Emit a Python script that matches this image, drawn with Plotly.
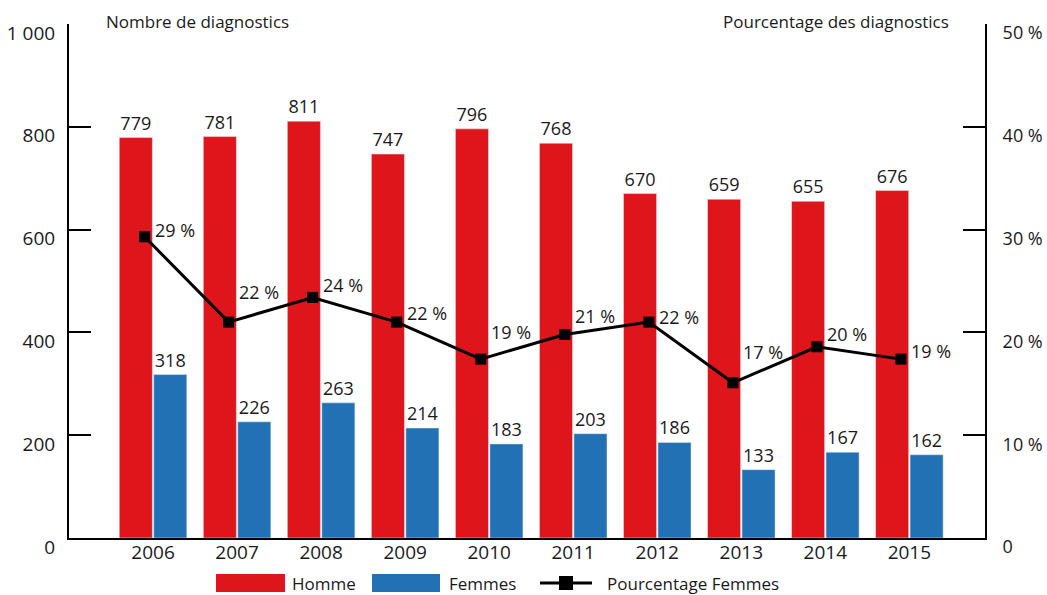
import plotly.graph_objects as go

years = ["2006", "2007", "2008", "2009", "2010", "2011", "2012", "2013", "2014", "2015"]
homme = [779, 781, 811, 747, 796, 768, 670, 659, 655, 676]
femmes = [318, 226, 263, 214, 183, 203, 186, 133, 167, 162]
pct_femmes = [29.3, 21.0, 23.4, 21.0, 17.4, 19.8, 21.0, 15.1, 18.6, 17.4]
pct_labels = ["29 %", "22 %", "24 %", "22 %", "19 %", "21 %", "22 %", "17 %", "20 %", "19 %"]
series_names = ["Homme", "Femmes", "Pourcentage Femmes"]
left_title = "Nombre de diagnostics"
right_title = "Pourcentage des diagnostics"
left_ticks = [0, 200, 400, 600, 800, 1000]
left_ticktext = ["0", "200", "400", "600", "800", "1 000"]
right_ticks = [0, 10, 20, 30, 40, 50]
right_ticktext = ["0", "10 %", "20 %", "30 %", "40 %", "50 %"]

# label vertical offsets (style only)
label_yshift = [7, 30, 12, 9, 27, 18, 5, 31, 13, 8]

FONT = "Open Sans"
TXT = "#1a1a1a"
RED = "#de151b"
BLUE = "#2271b5"

W, H = 1047, 595
ML, MR, MT, MB = 69, 62, 24, 57
pw, ph = W - ML - MR, H - MT - MB


def px2x(px):
    return (px - ML) / pw


def px2y(py):
    return (H - MB - py) / ph


fig = go.Figure()
fig.add_trace(go.Bar(
    x=years, y=homme, name=series_names[0], marker_color=RED,
    text=homme, textposition="outside", cliponaxis=False, showlegend=False,
    textfont=dict(size=18, color=TXT, family=FONT),
))
fig.add_trace(go.Bar(
    x=years, y=femmes, name=series_names[1], marker_color=BLUE,
    text=femmes, textposition="outside", cliponaxis=False, showlegend=False,
    textfont=dict(size=18, color=TXT, family=FONT),
))
fig.add_trace(go.Scatter(
    x=years, y=pct_femmes, name=series_names[2],
    xaxis="x2", yaxis="y2", mode="lines+markers", showlegend=False,
    line=dict(color="black", width=3),
    marker=dict(symbol="square", size=11, color="black"),
    cliponaxis=False,
))

annotations = []
for i, (v, lab, ys) in enumerate(zip(pct_femmes, pct_labels, label_yshift)):
    annotations.append(dict(
        x=i, y=v, xref="x", yref="y2", text=lab, showarrow=False,
        xanchor="left", yanchor="middle", xshift=0, yshift=ys,
        font=dict(size=18, color=TXT, family=FONT),
    ))
annotations.append(dict(
    x=px2x(104), y=px2y(21), xref="paper", yref="paper", text=left_title,
    showarrow=False, xanchor="left", yanchor="middle",
    font=dict(size=17, color=TXT, family=FONT),
))
annotations.append(dict(
    x=px2x(951), y=px2y(21), xref="paper", yref="paper", text=right_title,
    showarrow=False, xanchor="right", yanchor="middle",
    font=dict(size=17, color=TXT, family=FONT),
))

# manual legend (decoration)
LEG_Y = 583
shapes = [
    dict(type="rect", xref="paper", yref="paper", x0=px2x(216), x1=px2x(285),
         y0=px2y(LEG_Y - 9), y1=px2y(LEG_Y + 9), fillcolor=RED, line=dict(width=0)),
    dict(type="rect", xref="paper", yref="paper", x0=px2x(372), x1=px2x(440),
         y0=px2y(LEG_Y - 9), y1=px2y(LEG_Y + 9), fillcolor=BLUE, line=dict(width=0)),
    dict(type="line", xref="paper", yref="paper", x0=px2x(540), x1=px2x(592),
         y0=px2y(LEG_Y), y1=px2y(LEG_Y), line=dict(color="black", width=3)),
    dict(type="rect", xref="paper", yref="paper", x0=px2x(559), x1=px2x(573),
         y0=px2y(LEG_Y - 7), y1=px2y(LEG_Y + 7), fillcolor="black", line=dict(width=0)),
]
for name, lx in zip(series_names, [291, 448, 606]):
    annotations.append(dict(
        x=px2x(lx), y=px2y(LEG_Y), xref="paper", yref="paper", text=name,
        showarrow=False, xanchor="left", yanchor="middle", borderpad=0,
        font=dict(size=17, color=TXT, family=FONT),
    ))

fig.update_layout(
    width=W, height=H,
    margin=dict(l=ML, r=MR, t=MT, b=MB, autoexpand=False),
    plot_bgcolor="white", paper_bgcolor="white",
    font=dict(family=FONT, size=17, color=TXT),
    barmode="group", bargap=0.18, bargroupgap=0.04,
    showlegend=False,
    xaxis=dict(type="category", categoryorder="array", categoryarray=years,
               range=[-1.0, 9.9], showline=True, linecolor="black", linewidth=2,
               ticks="", showgrid=False, zeroline=False, automargin=False,
               ticklabelstandoff=-4,
               tickfont=dict(size=19, color=TXT, family=FONT)),
    xaxis2=dict(type="category", categoryorder="array", categoryarray=years,
                range=[-0.9, 10.0], overlaying="x", visible=False),
    yaxis=dict(range=[0, 1000], tickvals=left_ticks, ticktext=left_ticktext,
               showline=True, linecolor="black", linewidth=2, automargin=False,
               ticks="inside", ticklen=22, tickwidth=2, tickcolor="black",
               showgrid=False, zeroline=False, ticklabelshift=9, ticklabelstandoff=8,
               tickfont=dict(size=19, color=TXT, family=FONT)),
    yaxis2=dict(range=[0, 50], tickvals=right_ticks, ticktext=right_ticktext,
                overlaying="y", side="right", automargin=False,
                showline=True, linecolor="black", linewidth=2,
                ticks="inside", ticklen=22, tickwidth=2, tickcolor="black",
                showgrid=False, zeroline=False, ticklabelshift=9, ticklabelstandoff=12,
                tickfont=dict(size=18, color=TXT, family=FONT)),
    annotations=annotations,
    shapes=shapes,
)

fig.write_html("out.html", config={"displayModeBar": False},
               post_script="document.body.style.margin='0px';")
